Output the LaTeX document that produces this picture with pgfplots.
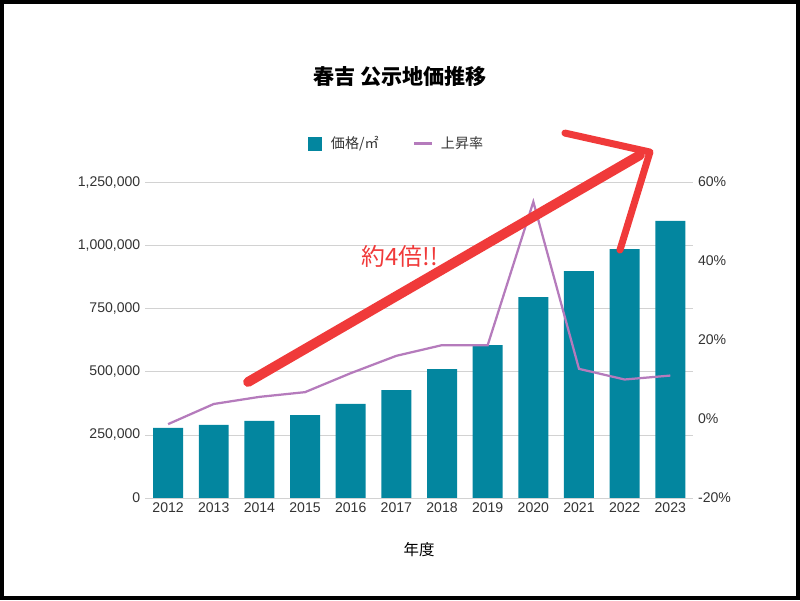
\documentclass[border=0pt]{standalone}
\usepackage{pgfplots}
\pgfplotsset{compat=1.18}
\usepackage{fontspec}
\setmainfont{Liberation Sans}
\newfontfamily\cjk{Noto Sans CJK JP}
\definecolor{teal1}{HTML}{03869F}
\definecolor{purp}{HTML}{B57BBC}
\definecolor{redd}{HTML}{F03A3A}
\begin{document}
\begin{tikzpicture}
\draw[line width=3pt] (0.05,0.05) rectangle (19.95,14.95);
\path (0,0) rectangle (20,15);
\begin{axis}[at={(3.63cm,2.55cm)},anchor=south west,scale only axis,width=13.7cm,height=7.9cm,
 xmin=-0.5,xmax=11.5,ymin=0,ymax=1250000,scaled y ticks=false,
 xtick={0,...,11},xticklabels={2012,2013,2014,2015,2016,2017,2018,2019,2020,2021,2022,2023},
 ytick={0,250000,500000,750000,1000000,1250000},
 yticklabels={0,{250,000},{500,000},{750,000},{1,000,000},{1,250,000}},
 ymajorgrids,grid style={gray!35},axis line style={draw=none},tick style={draw=none},
 tick label style={font=\fontsize{10}{12}\selectfont,text=black!80},
 /pgf/number format/assume math mode=true,
 xlabel={\cjk 年度},xlabel style={font=\fontsize{11}{13}\selectfont,yshift=-14pt}]
\addplot[ybar,bar width=0.75cm,fill=teal1,draw=none] coordinates {
(0,277000)(1,289000)(2,305000)(3,328000)(4,372000)(5,427000)(6,510000)(7,605000)(8,795000)(9,898000)(10,985000)(11,1096000)};
\end{axis}
\begin{axis}[at={(3.63cm,2.55cm)},anchor=south west,scale only axis,width=13.7cm,height=7.9cm,
 xmin=-0.5,xmax=11.5,ymin=-20,ymax=60,axis y line*=right,axis x line=none,
 ytick={-20,0,20,40,60},yticklabels={-20\%,0\%,20\%,40\%,60\%},
 axis line style={draw=none},tick style={draw=none},
 tick label style={font=\fontsize{10}{12}\selectfont,text=black!80},
 /pgf/number format/assume math mode=true]
\addplot[purp,line width=1.6pt] coordinates {
(0,-1.3)(1,3.8)(2,5.6)(3,6.8)(4,11.6)(5,16)(6,18.7)(7,18.7)(8,55)(9,12.7)(10,10)(11,11)};
\end{axis}
\node[font=\cjk\fontsize{15}{18}\selectfont\bfseries] at (10,13.1) {春吉 公示地価推移};
\fill[teal1] (7.7,11.23) rectangle (8.05,11.58);
\node[anchor=west,font=\cjk\fontsize{10}{12}\selectfont,text=black!80] at (8.15,11.42) {価格/㎡};
\draw[purp,line width=2pt] (10.35,11.42) -- (10.8,11.42);
\node[anchor=west,font=\cjk\fontsize{10}{12}\selectfont,text=black!80] at (10.9,11.42) {上昇率};
\draw[redd,line width=7pt,line cap=round] (6.2,5.45) -- (16,11.125);
\draw[redd,line width=5pt,line cap=round,line join=round] (14.125,11.675) -- (16.25,11.2) -- (15.5,8.75);
\node[text=redd,font=\cjk\fontsize{17}{20}\selectfont] at (10,8.6) {約4倍!!};
\end{tikzpicture}
\end{document}
